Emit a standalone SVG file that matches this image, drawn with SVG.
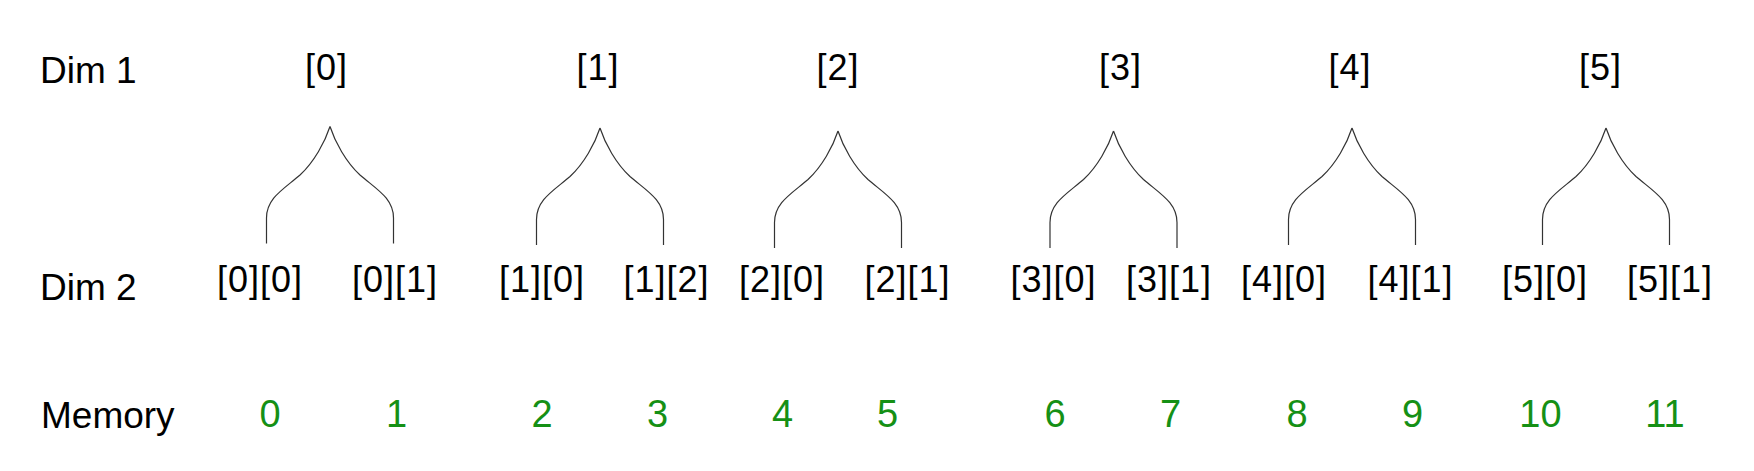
<svg xmlns="http://www.w3.org/2000/svg" xmlns:xlink="http://www.w3.org/1999/xlink" width="1754" height="471" viewBox="0 0 1754 471">
<style>
.lbl{font-family:"Liberation Sans",Arial,sans-serif;font-size:37px;fill:#000}
.idx{font-family:"Liberation Sans",Arial,sans-serif;font-size:36px;fill:#000;text-anchor:middle;letter-spacing:1px}
.mem{font-family:"Liberation Sans",Arial,sans-serif;font-size:38px;fill:#159015;text-anchor:middle}
.brace{fill:none;stroke:#333;stroke-width:1.2}
</style>
<defs>
<path id="brace" class="brace" d="M0,0 C-5,15.5 -16,35.5 -30,48.5 C-46,62.5 -63.5,71.5 -63.5,91.5 L-63.5,117 M0,0 C5,15.5 16,35.5 30,48.5 C46,62.5 63.5,71.5 63.5,91.5 L63.5,117"/>
</defs>
<rect width="1754" height="471" fill="#fff"/>
<g id="row-labels">
<text class="lbl" x="40" y="83">Dim 1</text>
<text class="lbl" x="40" y="300">Dim 2</text>
<text class="lbl" x="41" y="428">Memory</text>
</g>
<g id="connectors">
<use xlink:href="#brace" x="330" y="126.5"/>
<use xlink:href="#brace" x="600" y="128"/>
<use xlink:href="#brace" x="838" y="131"/>
<use xlink:href="#brace" x="1113.5" y="131"/>
<use xlink:href="#brace" x="1352" y="128"/>
<use xlink:href="#brace" x="1606" y="128"/>
</g>
<g id="dim1-0"><text class="idx" x="326.5" y="80">[0]</text></g>
<g id="dim1-1"><text class="idx" x="598" y="80">[1]</text></g>
<g id="dim1-2"><text class="idx" x="838" y="80">[2]</text></g>
<g id="dim1-3"><text class="idx" x="1120.5" y="80">[3]</text></g>
<g id="dim1-4"><text class="idx" x="1350" y="80">[4]</text></g>
<g id="dim1-5"><text class="idx" x="1600.5" y="80">[5]</text></g>
<g id="dim2-0-0"><text class="idx" x="260" y="292">[0][0]</text></g>
<g id="dim2-0-1"><text class="idx" x="395" y="292">[0][1]</text></g>
<g id="dim2-1-0"><text class="idx" x="542" y="292">[1][0]</text></g>
<g id="dim2-1-2"><text class="idx" x="666.5" y="292">[1][2]</text></g>
<g id="dim2-2-0"><text class="idx" x="782" y="292">[2][0]</text></g>
<g id="dim2-2-1"><text class="idx" x="907.5" y="292">[2][1]</text></g>
<g id="dim2-3-0"><text class="idx" x="1053.5" y="292">[3][0]</text></g>
<g id="dim2-3-1"><text class="idx" x="1169" y="292">[3][1]</text></g>
<g id="dim2-4-0"><text class="idx" x="1284" y="292">[4][0]</text></g>
<g id="dim2-4-1"><text class="idx" x="1410.5" y="292">[4][1]</text></g>
<g id="dim2-5-0"><text class="idx" x="1545" y="292">[5][0]</text></g>
<g id="dim2-5-1"><text class="idx" x="1670" y="292">[5][1]</text></g>
<g id="mem-0"><text class="mem" x="270" y="427">0</text></g>
<g id="mem-1"><text class="mem" x="396.5" y="427">1</text></g>
<g id="mem-2"><text class="mem" x="542" y="427">2</text></g>
<g id="mem-3"><text class="mem" x="657.5" y="427">3</text></g>
<g id="mem-4"><text class="mem" x="782.5" y="427">4</text></g>
<g id="mem-5"><text class="mem" x="887.5" y="427">5</text></g>
<g id="mem-6"><text class="mem" x="1055" y="427">6</text></g>
<g id="mem-7"><text class="mem" x="1170.5" y="427">7</text></g>
<g id="mem-8"><text class="mem" x="1297" y="427">8</text></g>
<g id="mem-9"><text class="mem" x="1412.5" y="427">9</text></g>
<g id="mem-10"><text class="mem" x="1540.5" y="427">10</text></g>
<g id="mem-11"><text class="mem" x="1665" y="427">11</text></g>
</svg>
